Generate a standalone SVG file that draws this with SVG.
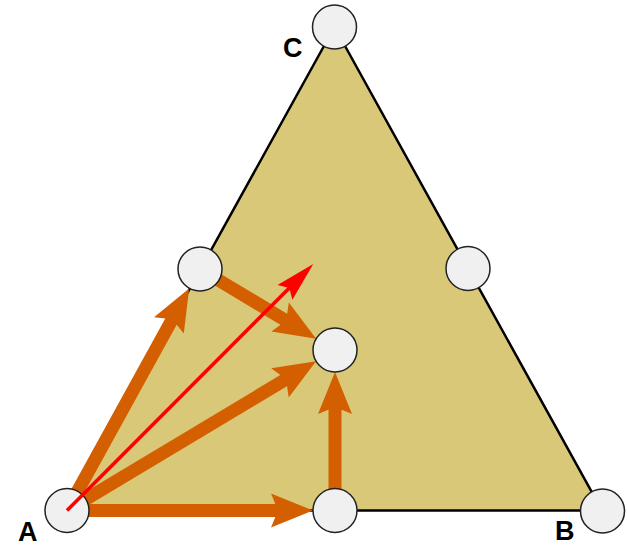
<svg xmlns="http://www.w3.org/2000/svg" width="627" height="546" viewBox="0 0 627 546">
<style>
.tri{fill:#D9C878;stroke:#000;stroke-width:2.5;stroke-linejoin:miter}
.flow{stroke:#D45F00;stroke-width:13;fill:none;marker-end:url(#oh)}
.dir{stroke:#FF0000;stroke-width:3.5;fill:none;marker-end:url(#rh)}
.pt{fill:#F0F0F0;stroke:#222;stroke-width:1.5}
.lbl{font-family:"Liberation Sans",Arial,sans-serif;font-weight:bold;font-size:27px;fill:#000}
</style>
<defs>
<marker id="oh" markerUnits="userSpaceOnUse" markerWidth="44" markerHeight="36" refX="12" refY="17" orient="auto" overflow="visible">
<path d="M0,0 L42,17 L0,34 L7,17 z" fill="#D45F00"/>
</marker>
<marker id="rh" markerUnits="userSpaceOnUse" markerWidth="42" markerHeight="22" refX="15" refY="10.5" orient="auto" overflow="visible">
<path d="M0,0 L40,10.5 L0,21 L6,10.5 z" fill="#FF0000"/>
</marker>
</defs>
<g id="triangle">
<polygon class="tri" points="67,510.5 602,510.5 334.5,27"/>
</g>
<g id="connectors">
<line class="flow" x1="67" y1="510.5" x2="174.7" y2="314.9"/>
<line class="flow" x1="67" y1="510.5" x2="290.3" y2="376.7"/>
<line class="flow" x1="67" y1="510.5" x2="283" y2="510.5"/>
<line class="flow" x1="200" y1="269" x2="290.4" y2="323.2"/>
<line class="flow" x1="335" y1="510.5" x2="335" y2="402"/>
</g>
<g id="node-A"><circle class="pt" cx="67" cy="510.5" r="22"/><text class="lbl" x="18" y="541">A</text></g>
<g id="node-B"><circle class="pt" cx="602.5" cy="511" r="22"/><text class="lbl" x="555" y="540">B</text></g>
<g id="node-C"><circle class="pt" cx="334.5" cy="27" r="22"/><text class="lbl" x="283" y="57">C</text></g>
<g id="node-AC"><circle class="pt" cx="200" cy="269" r="22"/></g>
<g id="node-BC"><circle class="pt" cx="468" cy="268.5" r="22"/></g>
<g id="node-AB"><circle class="pt" cx="335" cy="510.5" r="22"/></g>
<g id="node-center"><circle class="pt" cx="335" cy="350" r="22"/></g>
<g id="direction">
<line class="dir" x1="67" y1="510.5" x2="295.6" y2="281.7"/>
</g>
</svg>
